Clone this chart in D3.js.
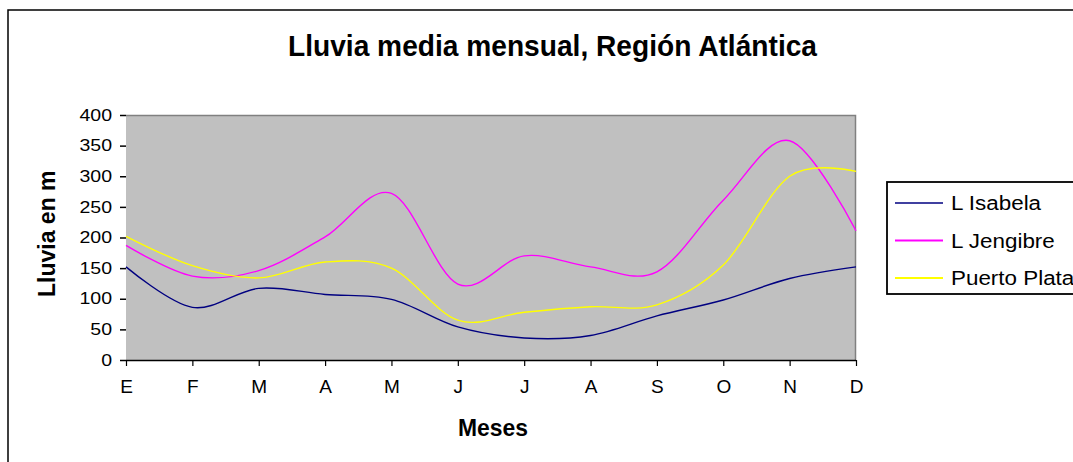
<!DOCTYPE html>
<html>
<head>
<meta charset="utf-8">
<script src="https://cdn.jsdelivr.net/npm/d3@7"></script>
<style>
  html, body { margin: 0; padding: 0; background: #fff; overflow: hidden; }
  svg { display: block; font-family: Arial, "Liberation Sans", sans-serif; }
</style>
</head>
<body>
<svg id="chart" width="1073" height="462"></svg>
<script>
const months = ["E", "F", "M", "A", "M", "J", "J", "A", "S", "O", "N", "D"];
const isabela = [152, 86, 117, 107, 99, 54, 36, 40, 72, 98, 133, 152];
const jengibre = [187, 137, 146, 201, 272, 124, 170, 152, 144, 261, 358, 211];
const puertoPlata = [202, 154, 134, 160, 150, 65, 78, 87, 90, 155, 300, 308];
const seriesNames = ["L Isabela", "L Jengibre", "Puerto Plata"];
const seriesColors = ["#000080", "#ff00ff", "#ffff00"];
const yTicks = [0, 50, 100, 150, 200, 250, 300, 350, 400];

const svg = d3.select("#chart");
const plot = { left: 126, right: 856, top: 115, bottom: 360 };

// outer frame
svg.append("rect").attr("x", 8).attr("y", 10).attr("width", 1100).attr("height", 500)
  .attr("fill", "#fff").attr("stroke", "#000").attr("stroke-width", 1.5);

// title
svg.append("text").attr("x", 288).attr("y", 56)
  .attr("font-size", 30).attr("font-weight", "bold")
  .attr("textLength", 529).attr("lengthAdjust", "spacingAndGlyphs")
  .text("Lluvia media mensual, Región Atlántica");

const idx = d3.range(months.length);
const x = d3.scalePoint().domain(idx).range([plot.left, plot.right]);
const y = d3.scaleLinear().domain([0, 400]).range([plot.bottom, plot.top]);

// plot background
svg.append("rect").attr("x", plot.left).attr("y", plot.top)
  .attr("width", plot.right - plot.left).attr("height", plot.bottom - plot.top)
  .attr("fill", "#c0c0c0");
svg.append("path")
  .attr("d", `M${plot.left},${plot.top + 0.5}H${plot.right - 0.5}V${plot.bottom}`)
  .attr("fill", "none").attr("stroke", "#808080").attr("stroke-width", 1.5);

// y axis
const yAxis = d3.axisLeft(y).tickValues(yTicks).tickSize(6).tickPadding(8);
const gy = svg.append("g").attr("transform", `translate(${plot.left},0)`).call(yAxis);
gy.select(".domain").remove();
gy.selectAll(".tick line").attr("stroke", "#000").attr("stroke-width", 1.5);
gy.selectAll(".tick text").attr("font-size", 16).attr("fill", "#000")
  .attr("font-family", "Arial, 'Liberation Sans', sans-serif")
  .each(function () {
    const w = this.getComputedTextLength();
    d3.select(this).attr("textLength", w * 1.22).attr("lengthAdjust", "spacingAndGlyphs");
  });

// x axis
const xAxis = d3.axisBottom(x).tickFormat(i => months[i]).tickSize(6).tickPadding(14);
const gx = svg.append("g").attr("transform", `translate(0,${plot.bottom})`).call(xAxis);
gx.select(".domain").attr("d", `M${plot.left},0.5H${plot.right}`).attr("stroke", "#000").attr("stroke-width", 1.5);
gx.selectAll(".tick line").attr("stroke", "#000").attr("stroke-width", 1.2);
gx.selectAll(".tick text").attr("font-size", 19).attr("fill", "#000")
  .attr("font-family", "Arial, 'Liberation Sans', sans-serif");

// axis titles
svg.append("text").attr("x", 493).attr("y", 436).attr("text-anchor", "middle")
  .attr("font-size", 24).attr("font-weight", "bold")
  .attr("textLength", 70).attr("lengthAdjust", "spacingAndGlyphs")
  .text("Meses");

svg.append("clipPath").attr("id", "ylabclip").append("rect")
  .attr("x", 0).attr("y", 172).attr("width", 120).attr("height", 200);
svg.append("g").attr("clip-path", "url(#ylabclip)")
  .append("text").attr("transform", "translate(55,297) rotate(-90)")
  .attr("font-size", 23).attr("font-weight", "bold")
  .text("Lluvia en mm");

// lines
const allSeries = [isabela, jengibre, puertoPlata];
const line = d3.line().x((d, i) => x(i)).y(d => y(d)).curve(d3.curveCardinal.tension(0));
allSeries.forEach((s, k) => {
  svg.append("path").datum(s).attr("d", line)
    .attr("fill", "none").attr("stroke", seriesColors[k]).attr("stroke-width", 1.4);
});

// legend
const lg = svg.append("g");
lg.append("rect").attr("x", 887).attr("y", 182).attr("width", 300).attr("height", 112)
  .attr("fill", "#fff").attr("stroke", "#000").attr("stroke-width", 1.8);
seriesNames.forEach((name, k) => {
  const yy = 203 + k * 37.5;
  lg.append("line").attr("x1", 895).attr("x2", 943).attr("y1", yy).attr("y2", yy)
    .attr("stroke", seriesColors[k]).attr("stroke-width", k === 0 ? 1.3 : 2);
  lg.append("text").attr("x", 951).attr("y", yy + 7).attr("font-size", 20)
    .text(name)
    .each(function () {
      const w = this.getComputedTextLength();
      d3.select(this).attr("textLength", w * 1.12).attr("lengthAdjust", "spacingAndGlyphs");
    });
});
</script>
</body>
</html>
